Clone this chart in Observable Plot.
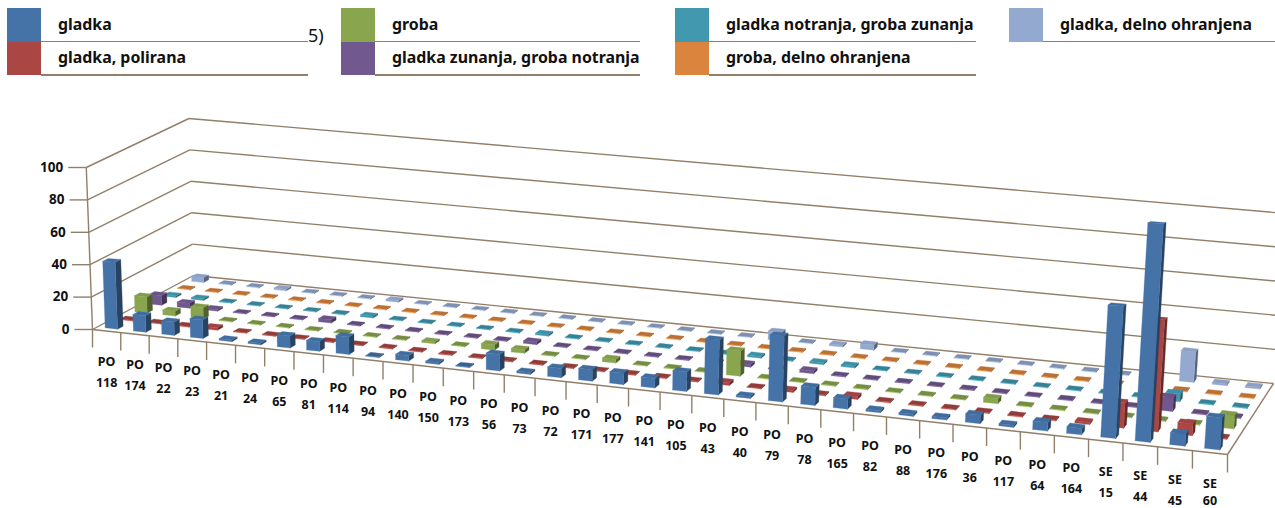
<!DOCTYPE html>
<html><head><meta charset="utf-8">
<script src="https://cdn.jsdelivr.net/npm/d3@7"></script>
<script src="https://cdn.jsdelivr.net/npm/@observablehq/plot@0.6"></script>
<style>
html,body{margin:0;padding:0;background:#fff;overflow:hidden}
#wrap{width:1275px;height:508px;position:relative;overflow:hidden}
#legend{position:relative;width:1275px;height:90px;font-family:"Noto Sans",sans-serif;font-weight:700;font-size:15.9px;color:#111}
#legend div{position:absolute}
svg{display:block}
</style></head><body>
<div id="wrap"><div id="legend"></div><div id="chart"></div></div>
<script>
const categories=["PO 118","PO 174","PO 22","PO 23","PO 21","PO 24","PO 65","PO 81","PO 114","PO 94","PO 140","PO 150","PO 173","PO 56","PO 73","PO 72","PO 171","PO 177","PO 141","PO 105","PO 43","PO 40","PO 79","PO 78","PO 165","PO 82","PO 88","PO 176","PO 36","PO 117","PO 64","PO 164","SE 15","SE 44","SE 45","SE 60"];
const gladka=[41,10,8,11,1,1,7,5.5,10,.5,3,1,0,9,1,5,6,6,5,10,28,1,33,9,5,1,1,1,4,1,4,3,61,100,5.5,14.5];
const gladkaPolirana=[0,0,0,1.5,0,0,0,0,0,0,0,0,0,0,0,0,0,0,0,0,1.5,0,1,0,1.5,0,0,0,0,0,0,1,12,53,5.5,0];
const groba=[10,3,7,.5,0,0,0,.5,0,0,1,0,3,2,0,0,2,0,0,0,13.5,0,0,0,0,0,0,0,2.5,0,0,0,0,0,0,6.5];
const gladkaZunanja=[6,3,1,0,0,0,2,0,0,0,0,0,0,1.5,0,0,0,0,0,0,1.5,0,1.5,0,0,0,0,0,0,0,0,0,0,7,0,0];
const gladkaNotranja=[1,1,0,0,0,0,0,1,0,0,0,0,0,1,0,0,0,0,0,0,1,0,1,1,0,0,0,0,0,0,0,0,0,4,0,0];
const grobaDelno=[0,0,0,0,0,0,0,0,0,0,0,0,0,0,0,0,0,0,0,0,0,0,0,0,0,0,0,0,0,0,0,0,0,0,0,0];
const gladkaDelno=[3,0,0,1,0,0,0,1,0,0,0,0,0,0,0,0,0,0,0,0,5,0,1,3,0,0,0,0,0,0,0,0,0,17.5,1,1];
const seriesNames=["gladka","gladka, polirana","groba","gladka zunanja, groba notranja","gladka notranja, groba zunanja","groba, delno ohranjena","gladka, delno ohranjena"];
const seriesColors=["#4573a7","#aa4643","#89a54e","#71588f","#4198af","#db843d","#93a9cf"];
const seriesValues=[gladka,gladkaPolirana,groba,gladkaZunanja,gladkaNotranja,grobaDelno,gladkaDelno];
const yTicks=[0,20,40,60,80,100];
const yMax=100;

// scene: floor corners and wall height in page pixels
const FL=[92,329],FR=[1227,454],BR=[1273,383],BL=[193,275];
const H100={FL:162,BL:157,BR:170,FR:225};
const TILT=9.3e-5,TILT0=505,WARP=.054;
const homography=(()=>{
  const [x0,y0]=FL,[x1,y1]=FR,[x2,y2]=BR,[x3,y3]=BL;
  const dx1=x1-x2,dx2=x3-x2,dx3=x0-x1+x2-x3,dy1=y1-y2,dy2=y3-y2,dy3=y0-y1+y2-y3;
  const den=dx1*dy2-dx2*dy1;
  const g=(dx3*dy2-dx2*dy3)/den,h=(dx1*dy3-dx3*dy1)/den;
  const a=x1-x0+g*x1,b=x3-x0+h*x3,d=y1-y0+g*y1,e=y3-y0+h*y3;
  return (u,s)=>{const w=g*u+h*s+1;return [(a*u+b*s+x0)/w,(d*u+e*s+y0)/w];};
})();
function project(u,s,v){
  const [fx,fy]=homography(u+WARP*u*(1-u),s);
  const sc=(1-u)*(1-s)*H100.FL+u*(1-s)*H100.FR+u*s*H100.BR+(1-u)*s*H100.BL;
  const px=v/yMax*sc;
  return [fx+px*TILT*(fx-TILT0),fy-px];
}
const nC=categories.length,nS=seriesNames.length;
const barW=.44,barD=.37,minH=.45;
const polys=[];let pid=0;
function poly(pts,c){pid++;pts.concat([pts[0]]).forEach(p=>polys.push({id:pid,x:p[0],y:p[1],c}));}
for(let j=nS-1;j>=0;j--){
  const base=seriesColors[j];
  const right=d3.color(base).darker(1.5).formatHex();
  for(let i=0;i<nC;i++){
    const raw=seriesValues[j][i],v=Math.max(raw,minH);
    const flat=raw<.8;
    const u0=(i+.5-barW/2)/nC,u1=(i+.5+barW/2)/nC,s0=(j+.5-barD/2)/nS,s1=(j+.5+barD/2)/nS;
    const top=flat?d3.color(base).darker(.45).formatHex():d3.color(base).darker(.15).formatHex();
    const front=flat?d3.color(base).brighter(.6).formatHex():base;
    poly([project(u1,s0,0),project(u1,s1,0),project(u1,s1,v),project(u1,s0,v)],right);
    poly([project(u0,s0,0),project(u1,s0,0),project(u1,s0,v),project(u0,s0,v)],front);
    poly([project(u0,s0,v),project(u1,s0,v),project(u1,s1,v),project(u0,s1,v)],top);
  }
}
const seg=(a,b)=>({x1:a[0],y1:a[1],x2:b[0],y2:b[1]});
const wall=[];
yTicks.forEach(t=>{
  wall.push(seg(project(0,0,t),project(0,1,t)));
  wall.push(seg(project(0,1,t),project(1,1,t)));
});
wall.push(seg(project(0,0,0),project(0,0,100)));
wall.push(seg(project(0,0,0),project(1,0,0)));
wall.push(seg(project(1,0,0),project(1,1,0)));
const ticksY=yTicks.map(t=>{const p=project(0,0,t);return seg([p[0]-18,p[1]],p);});
const ticksX=d3.range(nC+1).map(i=>{const p=project(i/nC,0,0);return seg(p,[p[0],p[1]+18]);});
const yLabels=yTicks.map(t=>{const p=project(0,0,t);return {x:p[0]-23,y:p[1],t:String(t)};});
const xLabels=categories.flatMap((c,i)=>{const p=project((i+.5)/nC,0,0);const [a,b]=c.split(" ");
  return [{x:p[0],y:p[1]+31,t:a},{x:p[0],y:Math.min(p[1]+52,500),t:b}];});

const lineC="#927f69";
const chart=Plot.plot({
  width:1275,height:418,margin:0,
  x:{domain:[0,1275],range:[0,1275],axis:null},
  y:{domain:[90,508],range:[0,418],axis:null},
  style:{background:"transparent",fontFamily:'"Noto Sans",sans-serif'},
  marks:[
    Plot.link(wall,{x1:"x1",y1:"y1",x2:"x2",y2:"y2",stroke:lineC,strokeWidth:1.4}),
    Plot.link(ticksY,{x1:"x1",y1:"y1",x2:"x2",y2:"y2",stroke:lineC,strokeWidth:1.4}),
    Plot.link(ticksX,{x1:"x1",y1:"y1",x2:"x2",y2:"y2",stroke:lineC,strokeWidth:1.4}),
    Plot.line(polys,{x:"x",y:"y",z:"id",fill:d=>d.c,stroke:d=>d.c,strokeWidth:.3,curve:"linear"}),
    Plot.text(yLabels,{x:"x",y:"y",text:"t",textAnchor:"end",fontSize:13.5,fontWeight:700,fill:"#111"}),
    Plot.text(xLabels,{x:"x",y:"y",text:"t",textAnchor:"middle",fontSize:12.5,fontWeight:700,fill:"#111"})
  ]
});
document.getElementById("chart").append(chart);

// legend above the chart
const leg=document.getElementById("legend");
const add=(css,t)=>{const d=document.createElement("div");d.style.cssText=css;if(t)d.textContent=t;leg.append(d);};
const cols=[7,341,675,1009],lens=[267,265,267,233];
[[0,0],[1,0],[2,1],[3,1],[4,2],[5,2],[6,3]].forEach(([k,c])=>{
  const row=(k===1||k===3||k===5)?1:0;
  const y=8+row*33.5,x=cols[c];
  add(`left:${x}px;top:${y}px;width:34px;height:33.5px;background:${seriesColors[k]}`);
  add(`left:${x+34}px;top:${y+32.5}px;width:${lens[c]}px;height:1.5px;background:#927f69`);
  add(`left:${x+51}px;top:${y+5-row}px;line-height:22px;white-space:nowrap`,seriesNames[k]);
});
add(`left:308px;top:24px;line-height:22px;font-weight:400;font-size:18px`,"5)");
</script></body></html>
